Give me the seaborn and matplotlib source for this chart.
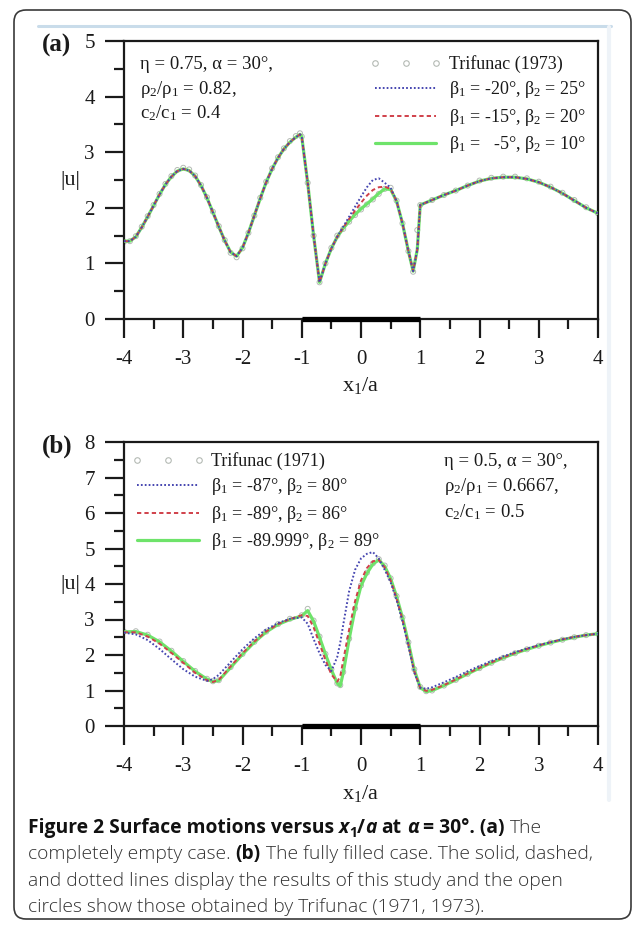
import matplotlib
matplotlib.use("Agg")
import matplotlib.pyplot as plt
import matplotlib.transforms as mtransforms
from matplotlib.lines import Line2D
from matplotlib.patches import FancyBboxPatch
from matplotlib.ticker import MultipleLocator
import seaborn as sns

# ------------------------------------------------------------------ data
# panel (a): completely empty case
xa = [-4.0, -3.9, -3.8, -3.7, -3.6, -3.5, -3.4, -3.3, -3.2, -3.1,
      -3.0, -2.9, -2.8, -2.7, -2.6, -2.5, -2.4, -2.3, -2.2, -2.1,
      -2.0, -1.9, -1.8, -1.7, -1.6, -1.5, -1.4, -1.3, -1.2, -1.1,
      -1.03, -1.0, -0.9, -0.8, -0.7, -0.6, -0.5, -0.4, -0.3, -0.2,
      -0.1, 0.0, 0.1, 0.2, 0.3, 0.4, 0.5, 0.6, 0.7, 0.8,
      0.88, 0.95, 1.0, 1.2, 1.4, 1.6, 1.8, 2.0, 2.2, 2.4,
      2.6, 2.8, 3.0, 3.2, 3.4, 3.6, 3.8, 4.0]
a_green = [1.40, 1.40, 1.48, 1.65, 1.84, 2.04, 2.24, 2.42, 2.56, 2.66,
           2.70, 2.67, 2.57, 2.40, 2.18, 1.92, 1.66, 1.41, 1.20, 1.13,
           1.28, 1.55, 1.86, 2.17, 2.46, 2.70, 2.90, 3.06, 3.18, 3.27,
           3.32, 3.28, 2.45, 1.50, 0.66, 1.00, 1.27, 1.48, 1.63, 1.76,
           1.88, 1.98, 2.07, 2.16, 2.26, 2.34, 2.33, 2.12, 1.72, 1.22,
           0.86, 1.25, 2.05, 2.14, 2.23, 2.31, 2.40, 2.48, 2.53, 2.55,
           2.55, 2.52, 2.46, 2.37, 2.26, 2.13, 2.00, 1.90]
a_red = [1.40, 1.40, 1.48, 1.65, 1.84, 2.04, 2.24, 2.42, 2.56, 2.66,
         2.70, 2.67, 2.57, 2.40, 2.18, 1.92, 1.66, 1.41, 1.20, 1.13,
         1.28, 1.55, 1.86, 2.17, 2.46, 2.70, 2.90, 3.06, 3.18, 3.27,
         3.32, 3.28, 2.45, 1.50, 0.66, 1.00, 1.27, 1.48, 1.64, 1.80,
         1.95, 2.09, 2.22, 2.32, 2.37, 2.38, 2.34, 2.12, 1.72, 1.22,
         0.86, 1.25, 2.05, 2.14, 2.23, 2.31, 2.40, 2.48, 2.53, 2.55,
         2.55, 2.52, 2.46, 2.37, 2.26, 2.13, 2.00, 1.90]
a_blue = [1.40, 1.40, 1.48, 1.65, 1.84, 2.04, 2.24, 2.42, 2.56, 2.66,
          2.70, 2.67, 2.57, 2.40, 2.18, 1.92, 1.66, 1.41, 1.20, 1.13,
          1.28, 1.55, 1.86, 2.17, 2.46, 2.70, 2.90, 3.06, 3.18, 3.27,
          3.32, 3.28, 2.45, 1.50, 0.66, 1.00, 1.27, 1.48, 1.66, 1.84,
          2.02, 2.20, 2.37, 2.50, 2.53, 2.45, 2.36, 2.12, 1.72, 1.22,
          0.86, 1.25, 2.05, 2.14, 2.23, 2.31, 2.40, 2.48, 2.53, 2.55,
          2.55, 2.52, 2.46, 2.37, 2.26, 2.13, 2.00, 1.90]
a_trifunac = [1.39, 1.40, 1.49, 1.66, 1.85, 2.05, 2.25, 2.43, 2.57, 2.68,
              2.72, 2.69, 2.58, 2.41, 2.19, 1.93, 1.67, 1.42, 1.19, 1.11,
              1.27, 1.55, 1.86, 2.18, 2.47, 2.71, 2.91, 3.07, 3.20, 3.29,
              3.34, 3.28, 2.45, 1.50, 0.66, 1.00, 1.28, 1.50, 1.62, 1.75,
              1.87, 1.97, 2.06, 2.15, 2.25, 2.34, 2.36, 2.13, 1.72, 1.22,
              0.85, 1.60, 2.05, 2.14, 2.23, 2.31, 2.40, 2.49, 2.54, 2.56,
              2.56, 2.53, 2.47, 2.38, 2.27, 2.14, 2.01, 1.90]

# panel (b): fully filled case
xb = [-4.0, -3.8, -3.6, -3.4, -3.2, -3.0, -2.8, -2.6, -2.5, -2.4,
      -2.2, -2.0, -1.8, -1.6, -1.4, -1.2, -1.0, -0.9, -0.8, -0.7,
      -0.6, -0.5, -0.4, -0.35, -0.3, -0.2, -0.1, 0.0, 0.1, 0.2,
      0.3, 0.4, 0.5, 0.6, 0.7, 0.8, 0.9, 1.0, 1.1, 1.2,
      1.4, 1.6, 1.8, 2.0, 2.2, 2.4, 2.6, 2.8, 3.0, 3.2,
      3.4, 3.6, 3.8, 4.0]
b_green = [2.65, 2.66, 2.56, 2.37, 2.11, 1.82, 1.54, 1.32, 1.25, 1.28,
           1.65, 2.02, 2.36, 2.65, 2.86, 3.00, 3.10, 3.25, 2.95, 2.50,
           2.02, 1.58, 1.20, 1.13, 1.50, 2.45, 3.30, 3.95, 4.30, 4.56,
           4.68, 4.50, 4.15, 3.65, 3.05, 2.35, 1.58, 1.08, 0.97, 1.00,
           1.14, 1.30, 1.47, 1.63, 1.78, 1.92, 2.05, 2.16, 2.26, 2.35,
           2.43, 2.50, 2.56, 2.60]
b_red = [2.64, 2.64, 2.52, 2.32, 2.06, 1.78, 1.50, 1.29, 1.24, 1.30,
         1.68, 2.05, 2.38, 2.66, 2.87, 3.01, 3.12, 3.10, 2.78, 2.32,
         1.86, 1.45, 1.25, 1.40, 1.85, 2.72, 3.52, 4.10, 4.45, 4.64,
         4.68, 4.47, 4.10, 3.60, 3.00, 2.30, 1.54, 1.07, 0.99, 1.02,
         1.15, 1.31, 1.48, 1.64, 1.79, 1.93, 2.06, 2.17, 2.27, 2.36,
         2.44, 2.51, 2.56, 2.60]
b_blue = [2.63, 2.58, 2.42, 2.17, 1.88, 1.60, 1.39, 1.27, 1.32, 1.44,
          1.80, 2.16, 2.47, 2.72, 2.90, 3.02, 3.06, 2.88, 2.45, 2.05,
          1.72, 1.55, 1.95, 2.35, 2.85, 3.80, 4.40, 4.72, 4.85, 4.90,
          4.72, 4.40, 4.05, 3.55, 2.95, 2.25, 1.50, 1.08, 1.05, 1.09,
          1.23, 1.38, 1.54, 1.69, 1.83, 1.96, 2.08, 2.18, 2.28, 2.36,
          2.44, 2.51, 2.56, 2.60]
b_trifunac = [2.66, 2.67, 2.57, 2.38, 2.12, 1.83, 1.55, 1.33, 1.26, 1.29,
              1.66, 2.03, 2.37, 2.66, 2.87, 3.02, 3.12, 3.30, 2.97, 2.52,
              2.03, 1.60, 1.20, 1.15, 1.52, 2.46, 3.31, 3.96, 4.32, 4.58,
              4.70, 4.52, 4.16, 3.66, 3.06, 2.36, 1.60, 1.10, 0.98, 1.00,
              1.14, 1.30, 1.47, 1.63, 1.78, 1.92, 2.05, 2.16, 2.26, 2.35,
              2.43, 2.50, 2.56, 2.60]

canyon = [-1.0, 1.0]                       # extent of the canyon opening
xticks = [-4, -3, -2, -1, 0, 1, 2, 3, 4]
a_yticks = [0, 1, 2, 3, 4, 5]
b_yticks = [0, 1, 2, 3, 4, 5, 6, 7, 8]

a_labels = ["Trifunac (1973)",
            r"β$_\mathregular{1}$ = -20°, β$_\mathregular{2}$ = 25°",
            r"β$_\mathregular{1}$ = -15°, β$_\mathregular{2}$ = 20°",
            r"β$_\mathregular{1}$ =   -5°, β$_\mathregular{2}$ = 10°"]
b_labels = ["Trifunac (1971)",
            r"β$_\mathregular{1}$ = -87°, β$_\mathregular{2}$ = 80°",
            r"β$_\mathregular{1}$ = -89°, β$_\mathregular{2}$ = 86°",
            r"β$_\mathregular{1}$ = -89.999°, β$_\mathregular{2}$ = 89°"]
a_params = ["η = 0.75, α = 30°,",
            r"ρ$_\mathregular{2}$/ρ$_\mathregular{1}$ = 0.82,",
            r"c$_\mathregular{2}$/c$_\mathregular{1}$ = 0.4"]
b_params = ["η = 0.5, α = 30°,",
            r"ρ$_\mathregular{2}$/ρ$_\mathregular{1}$ = 0.6667,",
            r"c$_\mathregular{2}$/c$_\mathregular{1}$ = 0.5"]

# ------------------------------------------------------------------ style
sns.set_theme(style="ticks")
plt.rcParams["font.family"] = ["Liberation Serif", "DejaVu Serif"]
plt.rcParams["axes.unicode_minus"] = False
plt.rcParams["mathtext.fontset"] = "custom"
plt.rcParams["mathtext.rm"] = "Liberation Serif"
plt.rcParams["mathtext.it"] = "Liberation Serif:italic"
plt.rcParams["mathtext.bf"] = "Liberation Serif:bold"

BLUE = "#4545b0"
RED = "#d0404a"
GREEN = "#6ee36a"
GREY = "#b4bab4"
INK = "#1a1a1a"
SERIF = "Liberation Serif"

W, H = 634, 926
fig = plt.figure(figsize=(W / 100, H / 100), dpi=100)
fig.patch.set_facecolor("white")


def px_rect(l, t, r, b):
    return [l / W, 1 - b / H, (r - l) / W, (b - t) / H]


axA = fig.add_axes(px_rect(124, 41, 598, 319))
axB = fig.add_axes(px_rect(124, 442, 598, 726))


def panel(ax, x, tri, blue, red, green, yticks, labels, params, ptx, pty,
          leg_loc, leg_anchor):
    sns.scatterplot(x=x, y=tri, ax=ax, marker="o", s=13,
                    facecolors="none", edgecolors=GREY, linewidths=0.7,
                    zorder=2)
    sns.lineplot(x=x, y=green, ax=ax, color=GREEN, lw=2.3, sort=False,
                 zorder=3)
    sns.lineplot(x=x, y=red, ax=ax, color=RED, lw=1.4, sort=False,
                 linestyle=(0, (2.2, 1.6)), zorder=4)
    sns.lineplot(x=x, y=blue, ax=ax, color=BLUE, lw=1.4, sort=False,
                 linestyle=(0, (0.9, 1.1)), zorder=5)
    sns.lineplot(x=canyon, y=[0, 0], ax=ax, color="black", lw=3.8,
                 solid_capstyle="butt", clip_on=False, zorder=8)

    ax.set_xlim(xticks[0], xticks[-1])
    ax.set_ylim(yticks[0], yticks[-1])
    ax.set_xticks(xticks)
    ax.set_yticks(yticks)
    ax.xaxis.set_minor_locator(MultipleLocator(0.5))
    ax.yaxis.set_minor_locator(MultipleLocator(0.5))
    ax.tick_params(which="major", length=14, width=1.6, direction="out",
                   color=INK, labelsize=15, labelcolor=INK)
    ax.tick_params(axis="x", which="major", pad=8)
    ax.tick_params(axis="y", which="major", pad=7)
    ax.tick_params(which="minor", length=7, width=1.6, direction="out",
                   color=INK)
    ax.tick_params(top=False, right=False, which="both")
    for sp in ax.spines.values():
        sp.set_visible(True)
        sp.set_linewidth(1.6)
        sp.set_color(INK)
    ax.set_facecolor("white")
    ax.grid(False)

    ax.set_xlabel(r"x$_\mathregular{1}$/a", fontsize=16, color=INK,
                  family=SERIF, labelpad=5)
    ax.set_ylabel("|u|", fontsize=16, color=INK, family=SERIF, rotation=0,
                  va="center", ha="center")
    ax.yaxis.set_label_coords(-54 / 474, 0.5)

    for s, yy in zip(params, pty):
        ax.text(ptx, yy, s, transform=ax.transAxes, fontsize=13.5,
                family=SERIF, color=INK, va="center", ha="left")

    handles = [
        Line2D([], [], ls="none", marker="o", ms=4, mfc="none", mec=GREY,
               mew=0.8),
        Line2D([], [], color=BLUE, lw=1.4, ls=(0, (0.9, 1.1))),
        Line2D([], [], color=RED, lw=1.4, ls=(0, (2.2, 1.6))),
        Line2D([], [], color=GREEN, lw=2.3),
    ]
    leg = ax.legend(handles, labels, loc=leg_loc, bbox_to_anchor=leg_anchor,
                    frameon=False, numpoints=3, handlelength=4.0,
                    handletextpad=0.4, labelspacing=0.36, borderpad=0,
                    borderaxespad=0, prop={"family": SERIF, "size": 13})
    for t in leg.get_texts():
        t.set_color(INK)


panel(axA, xa, a_trifunac, a_blue, a_red, a_green, a_yticks, a_labels,
      a_params, 16 / 474, [0.917, 0.827, 0.741],
      "upper right", (1 - 12 / 474, 1 - 14 / 278))
panel(axB, xb, b_trifunac, b_blue, b_red, b_green, b_yticks, b_labels,
      b_params, 320 / 474, [0.930, 0.842, 0.754],
      "upper left", (8 / 474, 1 - 10 / 284))

# panel letters
fig.text(42 / W, 1 - 45 / H, "(a)", fontsize=18, fontweight="bold",
         family=SERIF, color=INK, va="center", ha="left")
fig.text(42 / W, 1 - 446 / H, "(b)", fontsize=18, fontweight="bold",
         family=SERIF, color=INK, va="center", ha="left")

# ------------------------------------------------------------------ frame
ident = mtransforms.IdentityTransform()
fig.patches.append(FancyBboxPatch((14, H - 919), 617, 909,
                                  boxstyle="round,pad=0,rounding_size=12",
                                  transform=ident, fill=False, ec="#3a3a3a",
                                  lw=1.2, zorder=0))
fig.add_artist(Line2D([38 / W, 611 / W], [1 - 26 / H, 1 - 26 / H],
                      transform=fig.transFigure, color="#c9dcea", lw=2.2))
fig.add_artist(Line2D([609 / W, 609 / W], [1 - 27 / H, 1 - 800 / H],
                      transform=fig.transFigure, color="#eef3f8", lw=3))

# ------------------------------------------------------------------ caption
SANS = "Open Sans"
renderer = fig.canvas.get_renderer()


def style(kind, size):
    d = {"family": SANS, "fontsize": size, "color": "#333333",
         "fontweight": "light"}
    if "b" in kind:
        d["fontweight"] = "bold"
        d["color"] = "#111111"
    if "i" in kind:
        d["fontstyle"] = "italic"
    return d


def text_width(s, kw):
    t = fig.text(0, 0, s, transform=ident, **kw)
    w = t.get_window_extent(renderer).width
    t.remove()
    return w


def place_line(x0, ybase, runs, size):
    x = x0
    for s, kind in runs:
        sz = size * (0.72 if "s" in kind else 1.0)
        dy = -4 if "s" in kind else 0
        kw = style(kind, sz)
        sw = text_width("n n", kw) - text_width("nn", kw)
        core = s.strip(" ")
        lead = len(s) - len(s.lstrip(" "))
        trail = len(s) - len(s.rstrip(" "))
        x += lead * sw
        if core:
            t = fig.text(x, H - ybase + dy, core, transform=ident,
                         va="baseline", ha="left", **kw)
            x += t.get_window_extent(renderer).width
        x += trail * sw
    return x


cap_lines = [
    [("Figure 2 Surface motions versus ", "b"), ("x", "bi"), ("1", "bs"),
     ("/", "b"), ("a", "bi"), (" at ", "b"), ("α", "bi"),
     (" = 30°. (a)", "b"), (" The", "r")],
    [("completely empty case. ", "r"), ("(b)", "b"),
     (" The fully filled case. The solid, dashed,", "r")],
    [("and dotted lines display the results of this study and the open", "r")],
    [("circles show those obtained by Trifunac (1971, 1973).", "r")],
]
cap_base = [833, 859, 886, 912]
CAP_SIZE = 13.9
for runs, yb in zip(cap_lines, cap_base):
    place_line(28, yb, runs, CAP_SIZE)

fig.savefig("out.png", dpi=100, facecolor="white")
